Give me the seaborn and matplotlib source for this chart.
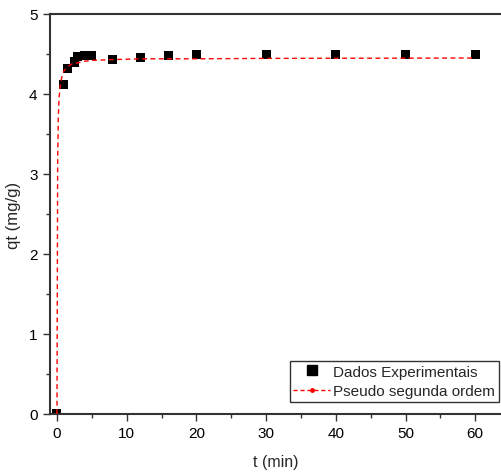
import numpy as np
import pandas as pd
import matplotlib
matplotlib.use("Agg")
import matplotlib.pyplot as plt
import seaborn as sns
from matplotlib.lines import Line2D
from matplotlib.ticker import MultipleLocator

# Experimental data
t_exp = [0, 1, 1.5, 2.5, 3, 4, 5, 8, 12, 16, 20, 30, 40, 50, 60]
qt_exp = [0, 4.12, 4.32, 4.40, 4.47, 4.48, 4.48, 4.43, 4.46, 4.48, 4.49, 4.49, 4.49, 4.49, 4.49]

# Pseudo second-order fit curve
t_fit = [0, 0.1, 0.2, 0.3, 0.5, 0.75, 1, 1.5, 2, 3, 4, 5, 8, 12, 20, 30, 40, 50, 60]
qt_fit = [0, 3.2, 3.73, 3.95, 4.13, 4.23, 4.29, 4.34, 4.37, 4.39, 4.41, 4.42, 4.43, 4.44, 4.44, 4.445, 4.447, 4.448, 4.45]

sns.set_style("white")
plt.rcParams['font.family'] = ['Liberation Sans', 'DejaVu Sans']

fig = plt.figure(figsize=(5.01, 4.77), dpi=100)
ax = fig.add_axes([50/501, 62/477, 451/501, 400/477])

df_exp = pd.DataFrame({"t": t_exp, "qt": qt_exp})
df_fit = pd.DataFrame({"t": t_fit, "qt": qt_fit})

sns.lineplot(data=df_fit, x="t", y="qt", ax=ax, color="red", lw=1.0,
             linestyle=(0, (3.5, 2.5)), zorder=3)
sns.scatterplot(data=df_exp, x="t", y="qt", ax=ax, marker="s", s=42,
                color="black", edgecolor="none", zorder=2)

ax.set_xlim(-1.0, 63.7)
ax.set_ylim(0, 5)
ax.xaxis.set_major_locator(MultipleLocator(10))
ax.xaxis.set_minor_locator(MultipleLocator(5))
ax.yaxis.set_major_locator(MultipleLocator(1))
ax.yaxis.set_minor_locator(MultipleLocator(0.5))
ax.tick_params(which="major", direction="out", length=5, width=1, colors="#333333",
               labelsize=11, labelcolor="black", bottom=True, left=True, pad=4)
ax.tick_params(which="minor", direction="out", length=3, width=1, colors="#333333",
               bottom=True, left=True)
for s in ["left", "bottom", "top"]:
    ax.spines[s].set_visible(True)
    ax.spines[s].set_color("#333333")
    ax.spines[s].set_linewidth(1.5)
ax.spines["right"].set_visible(False)

ax.set_xlabel("t (min)", fontsize=11.5, labelpad=10)
ax.set_ylabel("qt (mg/g)", fontsize=12, labelpad=6)

handles = [
    Line2D([], [], marker="s", color="black", linestyle="none", markersize=7),
    Line2D([], [], color="red", linestyle=(0, (3, 2)), lw=1, marker="o", markersize=2.5),
]
leg = ax.legend(handles, ["Dados Experimentais", "Pseudo segunda ordem"],
                loc="lower right", bbox_to_anchor=(0.995, 0.03), fontsize=11,
                frameon=True, fancybox=False, borderpad=0.25, handlelength=2.4,
                handletextpad=0.2, labelspacing=0.35, borderaxespad=0)
leg.get_frame().set_edgecolor("black")
leg.get_frame().set_linewidth(1.0)

fig.savefig("out.png", dpi=100)
